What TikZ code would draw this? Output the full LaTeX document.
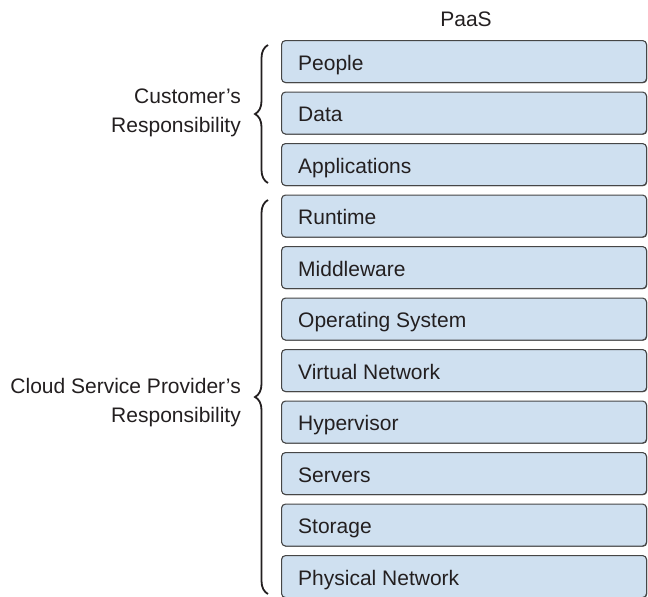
\documentclass[tikz,border=0pt]{standalone}
\usepackage{fontspec}
\setmainfont{Liberation Sans}
\usetikzlibrary{decorations.pathreplacing}
\definecolor{boxfill}{RGB}{207,224,240}
\definecolor{boxline}{RGB}{70,70,70}
\definecolor{txt}{RGB}{35,31,32}
\tikzset{
  layerbox/.style={draw=boxline, line width=1.1pt, fill=boxfill, rounded corners=4pt,
    minimum width=365pt, minimum height=42pt, anchor=north west, inner sep=0pt},
  layertext/.style={anchor=base west, text=txt, font=\fontsize{21}{22}\selectfont, inner sep=0pt},
  sidelabel/.style={anchor=base east, align=right, text=txt, font=\fontsize{21}{29.5}\selectfont, inner sep=0pt},
  bracestyle/.style={draw=txt, line width=1.8pt, decorate,
    decoration={brace, amplitude=13pt, aspect=0.5}},
}
\begin{document}
\begin{tikzpicture}[x=1pt,y=-1pt]
\useasboundingbox (0,0) rectangle (648,597);
\node[anchor=base, text=txt, font=\fontsize{21}{22}\selectfont, inner sep=0pt] (paas) at (466,26.7) {PaaS};
\foreach \i/\name/\lab in {0/b0/People,1/b1/Data,2/b2/Applications,3/b3/Runtime,4/b4/Middleware,5/b5/Operating System,6/b6/Virtual Network,7/b7/Hypervisor,8/b8/Servers,9/b9/Storage,10/b10/Physical Network}{
  \pgfmathsetmacro{\ty}{40+51.5*\i}
  \fill[boxline, rounded corners=4pt] (282.2,\ty+1.2) rectangle (647.2,\ty+43.2);
  \node[layerbox] (\name) at (281,\ty) {};
  \node[layertext] (\name t) at (298,\ty+30) {\lab};
}
\coordinate (c1a) at (268,183);
\coordinate (c1b) at (268,45);
\coordinate (c2a) at (268,594);
\coordinate (c2b) at (268,200);
\draw[bracestyle] (c1a) -- (c1b);
\draw[bracestyle] (c2a) -- (c2b);
\node[sidelabel] (cust) at (241,132.5) {Customer's\\Responsibility};
\node[sidelabel] (csp) at (241,422.5) {Cloud Service Provider's\\Responsibility};
\end{tikzpicture}
\end{document}
